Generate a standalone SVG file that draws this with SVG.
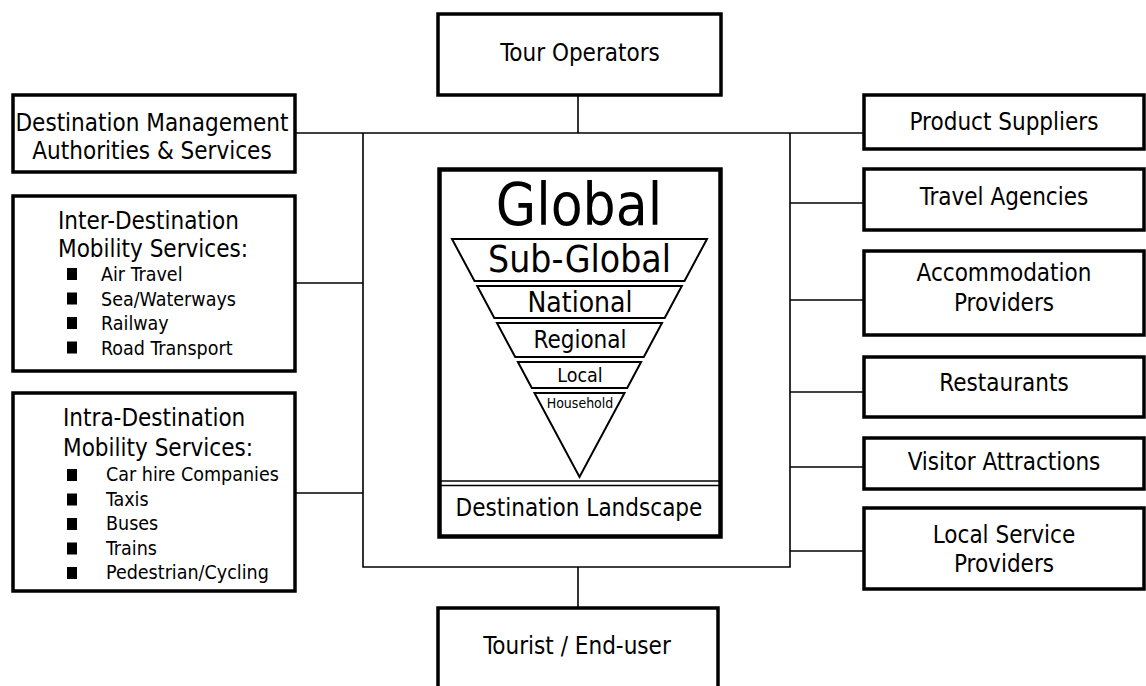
<svg xmlns="http://www.w3.org/2000/svg" width="1146" height="686" viewBox="0 0 1146 686">
<style>
.box{fill:#fff;stroke:#000;stroke-width:3.5}
.ln{fill:none;stroke:#000;stroke-width:1.6}
.band{fill:#fff;stroke:#000;stroke-width:2}
text{font-family:'DejaVu Sans Condensed','DejaVu Sans',sans-serif;font-stretch:condensed;fill:#000}
.t{font-size:24px;text-anchor:middle}
.tl{font-size:24px}
.li{font-size:19.5px}
.c{text-anchor:middle}
</style>
<rect width="1146" height="686" fill="#fff"/>
<g id="connectors">
<line class="ln" x1="578" y1="96" x2="578" y2="133"/>
<line class="ln" x1="295" y1="133" x2="864" y2="133"/>
<polyline class="ln" points="363,133 363,567 790,567 790,133"/>
<line class="ln" x1="295" y1="283" x2="363" y2="283"/>
<line class="ln" x1="295" y1="493" x2="363" y2="493"/>
<line class="ln" x1="790" y1="203" x2="864" y2="203"/>
<line class="ln" x1="790" y1="300" x2="864" y2="300"/>
<line class="ln" x1="790" y1="392" x2="864" y2="392"/>
<line class="ln" x1="790" y1="467" x2="864" y2="467"/>
<line class="ln" x1="790" y1="551" x2="864" y2="551"/>
<line class="ln" x1="578" y1="567" x2="578" y2="608"/>
</g>
<g id="tour-operators">
<rect class="box" x="438" y="14" width="283" height="81"/>
<text class="t" x="580" y="61">Tour Operators</text>
</g>
<g id="tourist">
<rect class="box" x="438" y="608" width="280" height="90"/>
<text class="t" x="577" y="654">Tourist / End-user</text>
</g>
<g id="dma">
<rect class="box" x="13" y="95" width="282" height="77"/>
<text class="t" x="152" y="131">Destination Management</text>
<text class="t" x="152" y="159">Authorities &amp; Services</text>
</g>
<g id="inter-destination">
<rect class="box" x="13" y="196" width="282" height="175"/>
<text class="tl" x="58" y="229">Inter-Destination</text>
<text class="tl" x="58" y="257">Mobility Services:</text>
<rect x="67" y="268" width="10" height="12"/>
<rect x="67" y="292.5" width="10" height="12"/>
<rect x="67" y="317" width="10" height="12"/>
<rect x="67" y="341.5" width="10" height="12"/>
<text class="li" x="101" y="281">Air Travel</text>
<text class="li" x="101" y="305.5">Sea/Waterways</text>
<text class="li" x="101" y="330">Railway</text>
<text class="li" x="101" y="354.5">Road Transport</text>
</g>
<g id="intra-destination">
<rect class="box" x="13" y="393" width="282" height="198"/>
<text class="tl" x="63" y="426">Intra-Destination</text>
<text class="tl" x="63" y="456">Mobility Services:</text>
<rect x="67" y="469" width="10" height="12"/>
<rect x="67" y="493.5" width="10" height="12"/>
<rect x="67" y="518" width="10" height="12"/>
<rect x="67" y="542.5" width="10" height="12"/>
<rect x="67" y="567" width="10" height="12"/>
<text class="li" x="106" y="481">Car hire Companies</text>
<text class="li" x="106" y="505.5">Taxis</text>
<text class="li" x="106" y="530">Buses</text>
<text class="li" x="106" y="554.5">Trains</text>
<text class="li" x="106" y="579">Pedestrian/Cycling</text>
</g>
<g id="product-suppliers">
<rect class="box" x="864" y="95" width="280" height="54"/>
<text class="t" x="1004" y="130">Product Suppliers</text>
</g>
<g id="travel-agencies">
<rect class="box" x="864" y="169" width="280" height="61"/>
<text class="t" x="1004" y="205">Travel Agencies</text>
</g>
<g id="accommodation">
<rect class="box" x="864" y="251" width="280" height="84"/>
<text class="t" x="1004" y="281">Accommodation</text>
<text class="t" x="1004" y="311">Providers</text>
</g>
<g id="restaurants">
<rect class="box" x="864" y="357" width="280" height="60"/>
<text class="t" x="1004" y="391">Restaurants</text>
</g>
<g id="visitor-attractions">
<rect class="box" x="864" y="438" width="280" height="51"/>
<text class="t" x="1004" y="470">Visitor Attractions</text>
</g>
<g id="local-service">
<rect class="box" x="864" y="508" width="280" height="81"/>
<text class="t" x="1004" y="543">Local Service</text>
<text class="t" x="1004" y="572">Providers</text>
</g>
<g id="destination">
<rect x="439.5" y="169.5" width="281" height="367" fill="#fff" stroke="#000" stroke-width="4.5"/>
<line x1="441" y1="481" x2="719" y2="481" stroke="#000" stroke-width="1.3"/>
<line x1="441" y1="485.5" x2="719" y2="485.5" stroke="#000" stroke-width="1.3"/>
<text class="c" x="579" y="225" font-size="58">Global</text>
<polygon class="band" points="452,239 707,239 684.5,281 474.5,281"/>
<polygon class="band" points="477.2,286 681.8,286 664.7,318 494.3,318"/>
<polygon class="band" points="497,323 662,323 643.8,357 515.2,357"/>
<polygon class="band" points="517.9,362 641.1,362 627.2,388 531.8,388"/>
<polygon class="band" points="534.5,393 624.5,393 579.5,477"/>
<text class="c" x="579.5" y="272" font-size="37">Sub-Global</text>
<text class="c" x="580" y="312" font-size="28">National</text>
<text class="c" x="580" y="348" font-size="24">Regional</text>
<text class="c" x="580" y="382" font-size="19.5">Local</text>
<text class="c" x="580" y="408" font-size="14">Household</text>
<text class="c" x="579" y="516" font-size="24">Destination Landscape</text>
</g>
</svg>
